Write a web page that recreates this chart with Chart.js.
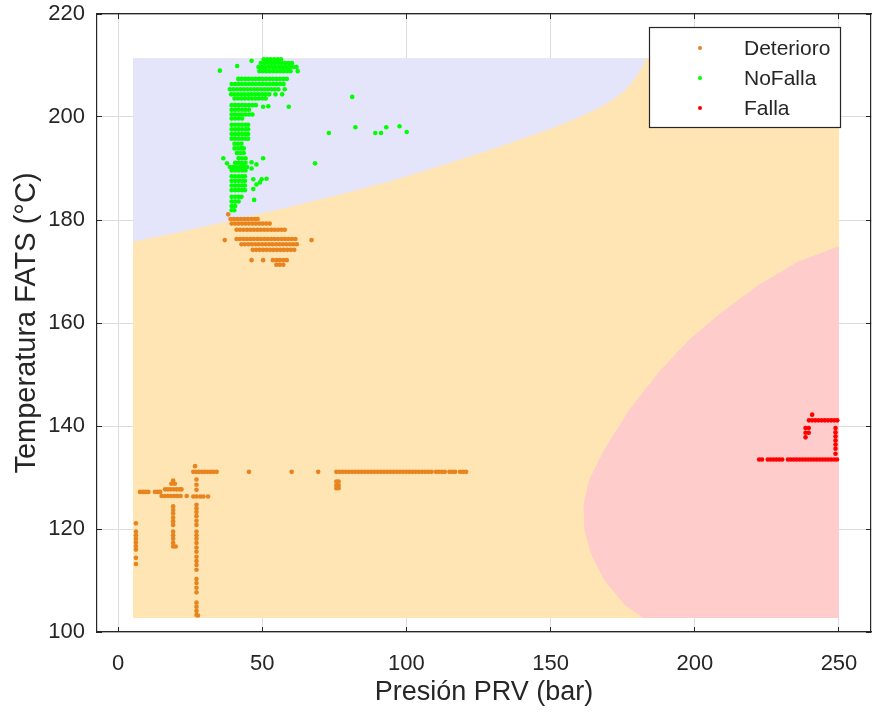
<!DOCTYPE html>
<html>
<head>
<meta charset="utf-8">
<script src="https://cdn.jsdelivr.net/npm/chart.js@4.4.1/dist/chart.umd.min.js"></script>
<style>
  html, body { margin: 0; padding: 0; background: #fff; }
  #wrap { width: 872px; height: 712px; }
</style>
</head>
<body>
<div id="wrap"><canvas id="chart" width="872" height="712"></canvas></div>
<script>
// Axis limits and ticks
const xLimits = [-7.3, 261.1];
const yLimits = [100, 220];
const xTicks = [0, 50, 100, 150, 200, 250];
const yTicks = [100, 120, 140, 160, 180, 200, 220];

const seriesNames = ['Deterioro', 'NoFalla', 'Falla'];
const seriesColors = ['#E8841E', '#00FF00', '#FF0000'];

// Measured points [presion, temperatura]
const deterioro = [
  [38.2,181.1],
  [39,180.2],[40.2,180.2],[41.4,180.2],[42.6,180.2],[43.8,180.2],[45,180.2],[46.2,180.2],[47.4,180.2],[48.4,180.2],
  [39.4,179.3],[40.6,179.3],[41.8,179.3],[43,179.3],[44.2,179.3],[45.4,179.3],[46.6,179.3],[47.8,179.3],[49,179.3],[50.2,179.3],[51.4,179.3],[52.6,179.3],
  [41.1,178.1],[42.3,178.1],[43.5,178.1],[44.7,178.1],[45.9,178.1],[47.1,178.1],[48.3,178.1],[49.5,178.1],[50.7,178.1],[51.9,178.1],[53.1,178.1],[54.3,178.1],[55.5,178.1],[56.7,178.1],[57.8,178.1],
  [37,176.1],[67.1,176.1],
  [41.1,176.3],[42.3,176.3],[43.5,176.3],[44.7,176.3],[45.9,176.3],[47.1,176.3],[48.3,176.3],[49.5,176.3],[50.7,176.3],[51.9,176.3],[53.1,176.3],[54.3,176.3],[55.5,176.3],[56.7,176.3],[57.9,176.3],[59.1,176.3],[60.3,176.3],[61.5,176.3],
  [42.8,175.3],[44,175.3],[45.2,175.3],[46.4,175.3],[47.6,175.3],[48.8,175.3],[50,175.3],[51.2,175.3],[52.4,175.3],[53.6,175.3],[54.8,175.3],[56,175.3],[57.2,175.3],[58.4,175.3],[59.6,175.3],[60.8,175.3],[62,175.3],
  [46.7,174.2],[47.9,174.2],[49.1,174.2],[50.3,174.2],[51.5,174.2],[52.7,174.2],[53.9,174.2],[55.1,174.2],[56.3,174.2],[57.5,174.2],[58.7,174.2],[59.9,174.2],[61.1,174.2],
  [46.3,172.2],[50.3,172.2],[53.7,172.2],[54.9,172.2],[56.1,172.2],[57.3,172.2],[58.5,172.2],
  [54.9,171.3],[56.1,171.3],[57.3,171.3],
  [6.2,121.1],[6.2,119.5],[6.2,118.8],[6.2,118.1],[6.2,117.4],[6.2,116.7],[6.2,116],[6.2,114.4],[6.2,113.2],
  [7.6,127.2],[8.6,127.2],[9.6,127.2],[10.5,127.2],[12.8,127.2],[13.8,127.2],[14.6,127.2],
  [19.1,129.4],[18.5,128.8],[19.7,128.8],
  [16.3,127.7],[17.3,127.7],[18.3,127.7],[19.3,127.7],[20.3,127.7],[21.3,127.7],[22,127.7],
  [15.1,126.4],[16.2,126.4],[17.3,126.4],[18.4,126.4],[19.5,126.4],[20.6,126.4],[21.7,126.4],[23.8,126.4],
  [19.1,124.4],[19.1,123.7],[19.1,123],[19.1,122.2],[19.1,121.5],[19.1,120.8],
  [19.1,119.5],[19.1,118.8],[19.1,118.1],[19.1,117.3],[19.1,116.6],[20,116.6],
  [26.7,132.2],
  [26.1,131.1],[27.1,131.1],[28.1,131.1],[29.1,131.1],[30.1,131.1],[31.1,131.1],[32.1,131.1],[33.1,131.1],[34.2,131.1],
  [27.2,129.6],[27.2,128.6],[27.2,127.6],
  [26.1,126.3],[27.2,126.3],[28.5,126.3],[29.6,126.3],[31.2,126.3],
  [27.2,124.7],[27.2,124],[27.2,123.3],[27.2,122.5],[27.2,121.6],[27.2,120.8],
  [27.2,119.5],[27.2,118.8],[27.2,118.1],[27.2,117.3],[27.2,116.4],[27.2,115.6],
  [27.2,114.6],[27.2,113.8],[27.2,113],[27.2,112.1],
  [27.2,110.3],[27.2,109.5],[27.2,108.6],[27.2,107.7],
  [27.2,105.7],[27.2,104.9],[27.2,104.1],[27.2,103.3],[27.7,103.2],
  [45.4,131.1],[60.2,131.1],[69.4,131.1],
  [75.7,131.1],[76.8,131.1],[77.9,131.1],[79,131.1],[80.1,131.1],[81.2,131.1],[82.3,131.1],[83.4,131.1],[84.5,131.1],[85.6,131.1],
  [86.7,131.1],[87.8,131.1],[88.9,131.1],[90,131.1],[91.1,131.1],[92.2,131.1],[93.3,131.1],[94.4,131.1],[95.5,131.1],[96.6,131.1],
  [97.7,131.1],[98.8,131.1],[99.9,131.1],[101,131.1],[102.1,131.1],[103.2,131.1],[104.3,131.1],[105.4,131.1],[106.5,131.1],[107.6,131.1],
  [108.7,131.1],[110.2,131.1],[111.2,131.1],[112.3,131.1],[113.3,131.1],[114.9,131.1],[115.9,131.1],[116.9,131.1],[118.6,131.1],[119.7,131.1],[120.7,131.1],
  [75.7,129.2],[76.5,129.2],[75.7,128.5],[76.5,128.5],[75.7,127.9],[76.5,127.9]
];

const noFalla = [
  [35.3,209],[41.3,209.9],[46.3,210.9],
  [50.5,211.2],[51.7,211.2],[52.9,211.2],[54.1,211.2],[55.3,211.2],[56.5,211.2],
  [49.5,210.5],[50.7,210.5],[51.9,210.5],[53.1,210.5],[54.3,210.5],[55.5,210.5],[56.7,210.5],[57.9,210.5],[59.1,210.5],[60.3,210.5],
  [48.7,209.7],[49.9,209.7],[51.1,209.7],[52.3,209.7],[53.5,209.7],[54.7,209.7],[55.9,209.7],[57.1,209.7],[58.3,209.7],[59.5,209.7],[60.7,209.7],[61.9,209.7],
  [49,208.9],[50.2,208.9],[51.4,208.9],[52.6,208.9],[53.8,208.9],[55,208.9],[56.2,208.9],[57.4,208.9],[58.6,208.9],[59.8,208.9],[62.3,208.9],
  [41.7,207.4],[42.9,207.4],[44.1,207.4],[45.3,207.4],[46.5,207.4],[47.7,207.4],[48.9,207.4],[50.1,207.4],[51.3,207.4],[52.5,207.4],[53.7,207.4],[54.9,207.4],[56.1,207.4],[57.3,207.4],[58.5,207.4],
  [39.4,206.4],[40.6,206.4],[41.8,206.4],[43,206.4],[44.2,206.4],[45.4,206.4],[46.6,206.4],[47.8,206.4],[49,206.4],[50.2,206.4],[51.4,206.4],[52.6,206.4],[53.8,206.4],[55,206.4],[56.2,206.4],[57.4,206.4],
  [38.8,205.4],[40,205.4],[41.2,205.4],[42.4,205.4],[43.6,205.4],[44.8,205.4],[46,205.4],[47.2,205.4],[48.4,205.4],[49.6,205.4],[50.8,205.4],[52,205.4],[53.2,205.4],[54.4,205.4],[55.6,205.4],[57.8,205.4],
  [39.2,204.4],[40.4,204.4],[41.6,204.4],[42.8,204.4],[44,204.4],[45.2,204.4],[46.4,204.4],[47.6,204.4],[48.8,204.4],[50,204.4],[51.2,204.4],[52.4,204.4],[54.6,204.4],[56.9,204.4],
  [40.4,203.6],[41.6,203.6],[42.8,203.6],[44,203.6],[45.2,203.6],[46.4,203.6],[47.6,203.6],[48.8,203.6],[50,203.6],[51.2,203.6],
  [59.2,202],[50.3,202],[52.1,202.1],
  [39.4,202.3],[40.6,202.3],[41.8,202.3],[43,202.3],[44.2,202.3],[45.4,202.3],[46.6,202.3],[47.8,202.3],
  [39.4,201.4],[40.6,201.4],[41.8,201.4],[43,201.4],[44.2,201.4],[45.4,201.4],
  [39.4,200.5],[40.6,200.5],[41.8,200.5],[43,200.5],[44.2,200.5],[45.4,200.5],[46.6,200.5],
  [39.4,199.7],[40.6,199.7],[41.8,199.7],[43,199.7],
  [39.4,198.5],[40.6,198.5],[41.8,198.5],[43,198.5],[44.2,198.5],[45.1,198.5],
  [39.4,197.6],[40.6,197.6],[41.8,197.6],[43,197.6],[44.2,197.6],[45.1,197.6],
  [39.4,196.7],[40.6,196.7],[41.8,196.7],[43,196.7],[44.2,196.7],[45.1,196.7],
  [39.4,195.8],[40.6,195.8],[41.8,195.8],[43,195.8],[44.2,195.8],[45.1,195.8],
  [40.4,194.8],[41.6,194.8],[42.8,194.8],
  [40.4,193.9],[41.6,193.9],[42.8,193.9],[43.6,193.9],
  [41.2,193],[42.4,193],[43.6,193],
  [36.5,192],[37.8,191],
  [41.8,192],[43,192],[44.2,192],
  [40.6,191.1],[41.8,191.1],[43,191.1],[44.2,191.1],
  [38.8,190.3],[40,190.3],[41.2,190.3],[42.4,190.3],[43.6,190.3],[44.7,190.3],
  [39.4,189.6],[40.6,189.6],[41.8,189.6],[43,189.6],[44.2,189.6],
  [46.3,190],[48,190.8],[50.3,192],[46.3,191.2],
  [39.4,188.5],[40.6,188.5],[41.8,188.5],[43,188.5],[44,188.5],
  [39.4,187.6],[40.6,187.6],[41.8,187.6],[43,187.6],[44,187.6],
  [39.4,186.7],[40.6,186.7],[41.8,186.7],[43,186.7],[44,186.7],
  [39.4,185.8],[40.6,185.8],[41.8,185.8],[43,185.8],[44,185.8],
  [46.9,187.9],[48,186.9],[49.8,187.9],[51.5,188],[46.9,186],[49.2,187.3],
  [39.4,184.5],[40.6,184.5],[41.8,184.5],[42.8,184.5],
  [39.4,183.6],[40.6,183.6],[41.8,183.6],
  [39.4,182.7],[40.6,182.7],
  [39.4,181.9],[40.3,181.9],
  [47.2,183.9],
  [81.2,203.9],[73.1,196.9],[82.3,198],[89.2,196.9],[91.2,196.9],[93,198],[68.3,191],[97.6,198.2],[100.1,197.1]
];

const falla = [
  [240.7,142.2],
  [239.6,141.1],[240.7,141.1],[241.8,141.1],[242.9,141.1],[244,141.1],[245.1,141.1],[246.2,141.1],[247.3,141.1],[248.4,141.1],[249.4,141.1],
  [238.4,139.6],[239.5,139.6],[238.4,138.7],[239.5,138.7],[238.4,137.8],
  [248.8,139.6],[248.8,138.8],[248.8,138],[248.8,137.2],[248.8,136.4],[248.8,135.6],[248.8,134.6],
  [222.3,133.5],[223.3,133.5],[225.3,133.5],[226.3,133.5],[227.3,133.5],[228.3,133.5],[229.3,133.5],[230.3,133.5],
  [232.3,133.5],[233.3,133.5],[234.3,133.5],[235.3,133.5],[236.3,133.5],[237.3,133.5],[238.3,133.5],[239.3,133.5],
  [240.3,133.5],[241.3,133.5],[242.3,133.5],[243.3,133.5],[244.3,133.5],[245.3,133.5],[246.3,133.5],[247.3,133.5],[248.3,133.5],[249.3,133.5]
];

// Classifier regions
const regionBounds = { xMin: 5.2, xMax: 250, yMin: 102.7, yMax: 211.4 };
// NoFalla / Deterioro boundary, y as a function of x
const noFallaEdge = [
  [5.2,175.8],[20,177.5],[40,180],[60,182.6],[80,185.4],[94,187.5],[110,190.2],[130,193.8],[150,197.7],
  [160,200],[167,201.8],[172,203.5],[176,205.3],[179,207.3],[181,209],[182.5,210.5],[183.3,211.4]
];
// Falla / Deterioro boundary, x as a function of y
const fallaEdge = [
  [182.1,102.7],[175.6,105.3],[168.6,110.1],[164.1,115],[161.7,119.8],[161.4,124.7],[163.4,129.6],[168.6,135.4],
  [177.3,143.2],[187.7,150.6],[198.1,156.8],[208.4,161.7],[222.3,167.5],[236.1,172],[250,174.9]
];

const toXY = p => ({ x: p[0], y: p[1] });
const ink = '#262626';
const gridGray = '#DCDCDC';
const fontFamily = 'Liberation Sans, Arial, sans-serif';
const tickFont = { family: fontFamily, size: 22 };

const scatterSet = (i, pts) => ({
  type: 'scatter',
  label: seriesNames[i],
  data: pts.map(toXY),
  backgroundColor: seriesColors[i],
  borderWidth: 0,
  pointRadius: 2.3,
  order: 0,
  inLegend: true
});

const datasets = [
  scatterSet(0, deterioro),
  scatterSet(1, noFalla),
  scatterSet(2, falla),
  {
    type: 'line',
    label: 'zona Deterioro',
    data: [{ x: regionBounds.xMin, y: regionBounds.yMin }, { x: regionBounds.xMax, y: regionBounds.yMin }],
    backgroundColor: '#FFE4B4',
    borderWidth: 0,
    pointRadius: 0,
    fill: { value: regionBounds.yMax },
    order: 3
  },
  {
    type: 'line',
    label: 'zona NoFalla',
    data: noFallaEdge.map(toXY),
    backgroundColor: '#E4E4FA',
    borderWidth: 0,
    pointRadius: 0,
    fill: { value: regionBounds.yMax },
    order: 2
  },
  {
    type: 'line',
    label: 'zona Falla',
    indexAxis: 'y',
    data: fallaEdge.map(toXY),
    backgroundColor: '#FFCCCC',
    borderWidth: 0,
    pointRadius: 0,
    fill: { value: regionBounds.xMax },
    order: 2
  }
];

// Legend box drawn inside the axes, upper right
const legendBox = {
  id: 'legendBox',
  afterDraw(chart) {
    const { ctx, chartArea } = chart;
    const items = chart.data.datasets.filter(d => d.inLegend);
    const right = chartArea.right - 31, top = chartArea.top + 13;
    const w = 191, h = 100;
    ctx.save();
    ctx.fillStyle = '#fff';
    ctx.fillRect(right - w, top, w, h);
    ctx.strokeStyle = ink;
    ctx.lineWidth = 1.2;
    ctx.strokeRect(right - w + 0.5, top + 0.5, w, h);
    ctx.font = '21px ' + fontFamily;
    ctx.textBaseline = 'middle';
    items.forEach((d, i) => {
      const cy = top + 21 + i * 30;
      ctx.fillStyle = d.backgroundColor;
      ctx.beginPath();
      ctx.arc(right - w + 51, cy, 2, 0, Math.PI * 2);
      ctx.fill();
      ctx.fillStyle = ink;
      ctx.fillText(d.label, right - w + 95, cy + 1);
    });
    ctx.restore();
  }
};

const fixedTicks = values => scale => { scale.ticks = values.map(v => ({ value: v })); };
// fixed box sizes, and no extra room reserved for overhanging tick labels
const fixedSize = (w, h) => s => {
  if (w !== null) s.width = w;
  if (h !== null) s.height = h;
  s.paddingTop = s.paddingBottom = s.paddingLeft = s.paddingRight = 0;
};

new Chart(document.getElementById('chart'), {
  type: 'scatter',
  data: { datasets: datasets },
  options: {
    responsive: false,
    animation: false,
    layout: { padding: 0, autoPadding: false },
    plugins: { legend: { display: false }, tooltip: { enabled: false } },
    scales: {
      x: {
        type: 'linear', position: 'bottom', min: xLimits[0], max: xLimits[1],
        afterBuildTicks: fixedTicks(xTicks),
        afterFit: fixedSize(null, 80),
        grid: { color: gridGray, tickColor: ink, tickLength: -5, lineWidth: 1 },
        border: { color: ink, width: 1.2 },
        ticks: { color: ink, font: tickFont, padding: 24, maxRotation: 0 },
        title: { display: true, text: 'Presión PRV (bar)', color: ink, font: { family: fontFamily, size: 27 }, padding: { top: 0, bottom: 3 } }
      },
      y: {
        type: 'linear', position: 'left', min: yLimits[0], max: yLimits[1],
        afterBuildTicks: fixedTicks(yTicks),
        afterFit: fixedSize(97, null),
        grid: { color: gridGray, tickColor: ink, tickLength: -5, lineWidth: 1 },
        border: { color: ink, width: 1.2 },
        ticks: { color: ink, font: tickFont, padding: 17 },
        title: { display: true, text: 'Temperatura FATS (°C)', color: ink, font: { family: fontFamily, size: 29 }, padding: { top: 10, bottom: 0 } }
      },
      x2: {
        type: 'linear', position: 'top', min: xLimits[0], max: xLimits[1],
        afterBuildTicks: fixedTicks(xTicks),
        afterFit: fixedSize(null, 14),
        grid: { drawOnChartArea: false, tickColor: ink, tickLength: -5 },
        border: { color: ink, width: 1.2 },
        ticks: { display: false }
      },
      y2: {
        type: 'linear', position: 'right', min: yLimits[0], max: yLimits[1],
        afterBuildTicks: fixedTicks(yTicks),
        afterFit: fixedSize(1, null),
        grid: { drawOnChartArea: false, tickColor: ink, tickLength: -5 },
        border: { color: ink, width: 1.2 },
        ticks: { display: false }
      }
    }
  },
  plugins: [legendBox]
});
</script>
</body>
</html>
